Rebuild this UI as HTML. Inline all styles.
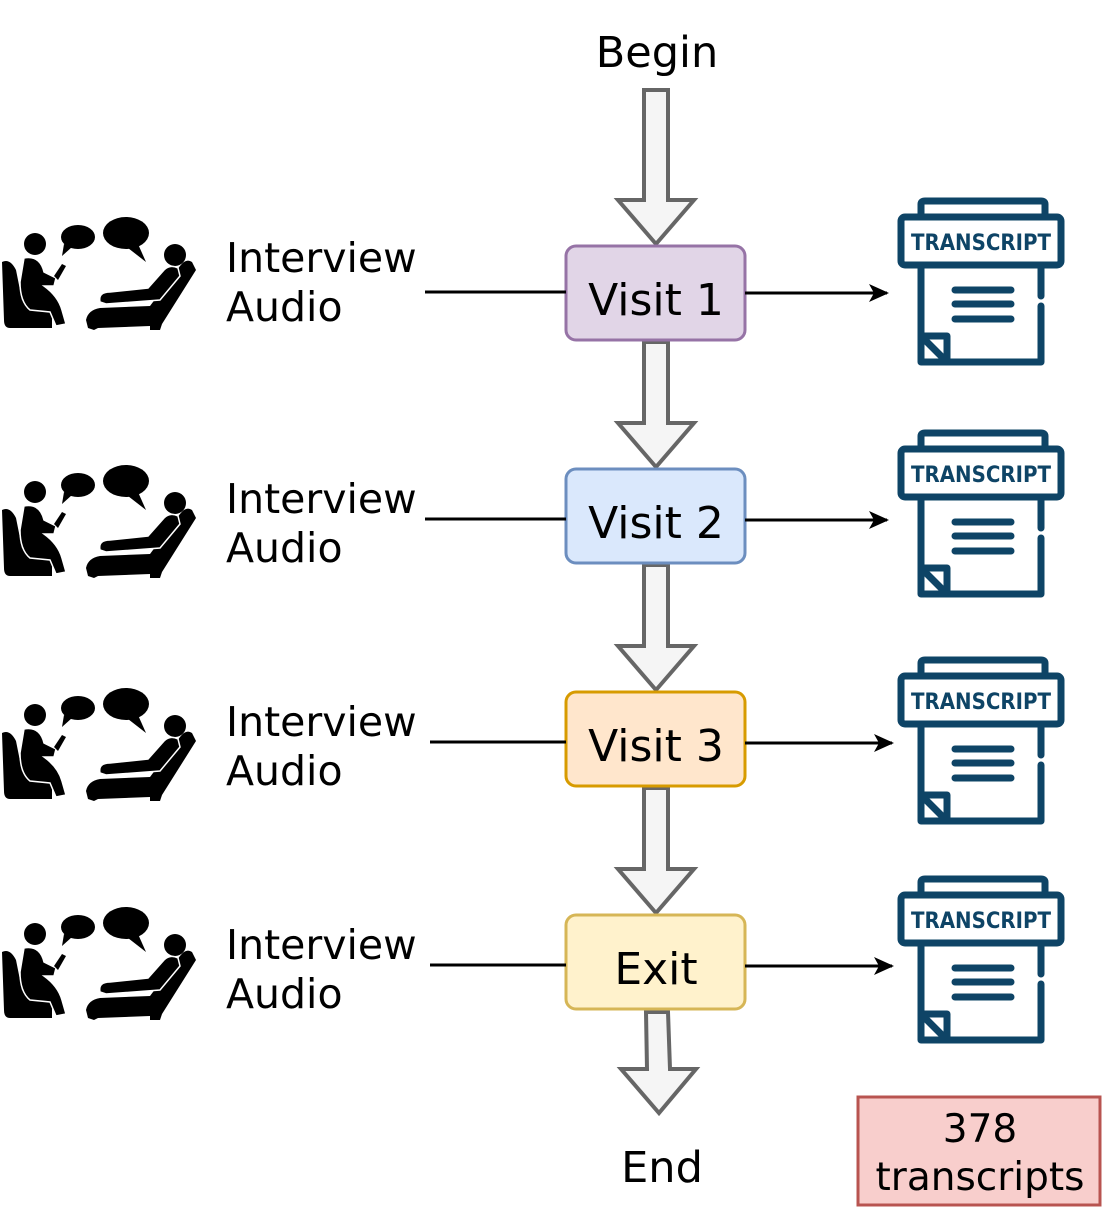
<!DOCTYPE html>
<html><head><style>
html,body{margin:0;padding:0;background:#fff;}
svg text{font-family:"DejaVu Sans","Liberation Sans",sans-serif;}
</style></head><body>
<svg width="1105" height="1215" viewBox="0 0 1105 1215" xmlns="http://www.w3.org/2000/svg">
<defs>
<g id="ppl">
  <!-- therapist chair -->
  <path d="M2,62 Q10,58 16,70 L22,100 L40,106 Q52,108 52,118 L52,128 L10,128 Q4,128 4,120 Z" fill="#000"/>
  <circle cx="35" cy="44" r="11" fill="#000"/>
  <path d="M24,58 Q40,55 44,72 L56,78 L54,86 L44,86 Q58,96 62,110 L66,124 L56,126 L50,112 L30,110 Q20,102 20,82 Z" fill="#000" stroke="#fff" stroke-width="1.5"/>
  <path d="M54,76 L62,64 L66,66 L58,80 Z" fill="#000"/>
  <!-- bubbles -->
  <ellipse cx="78" cy="37" rx="17" ry="12" fill="#000"/>
  <path d="M64,44 L62,56 L72,47 Z" fill="#000"/>
  <ellipse cx="126" cy="33" rx="23" ry="16" fill="#000"/>
  <path d="M138,44 L146,62 L128,48 Z" fill="#000"/>
  <!-- patient -->
  <circle cx="175" cy="55" r="11" fill="#000"/>
  <path d="M86,120 Q88,110 100,108 L150,106 L180,66 Q186,58 192,62 L196,70 L162,124 L160,130 L150,130 L150,126 L98,128 L94,130 L88,128 Z" fill="#000"/>
  <path d="M100,102 Q98,92 110,92 L148,88 L164,70 Q170,64 178,68 L180,76 L160,100 L106,104 Z" fill="#000" stroke="#fff" stroke-width="1.5"/>
</g>
<g id="tr" fill="none" stroke="#0e4466" stroke-width="7" stroke-linecap="round" stroke-linejoin="round">
  <path d="M24,18 V6 Q24,3 28,3 H144 Q148,3 148,6 V18"/>
  <rect x="4" y="19" width="160" height="48" rx="4"/>
  <path d="M24,67 V164 H144 V108 M144,98 V67"/>
  <path d="M24,138 H50 V164"/>
  <path d="M26,140 L48,162" />
  <path d="M58,92 H114 M58,106 H114 M58,121 H114"/>
  <text x="84" y="52" fill="#0e4466" stroke="none" font-size="22" font-weight="bold" text-anchor="middle" textLength="140" lengthAdjust="spacingAndGlyphs" style="font-family:'DejaVu Sans Condensed','DejaVu Sans',sans-serif">TRANSCRIPT</text>
</g>
<marker id="ah" markerWidth="22" markerHeight="22" refX="18" refY="11" orient="auto" markerUnits="userSpaceOnUse">
  <path d="M0,2 L20,11 L0,20 L5,11 Z" fill="#000"/>
</marker>
</defs>

<text x="657" y="67" font-size="43" text-anchor="middle">Begin</text>

<path d="M644,90 H668 V200 H694 L656,244 L618,200 H644 Z" fill="#f5f5f5" stroke="#666" stroke-width="4"/>
<path d="M644,342 H668 V423 H694 L656,467 L618,423 H644 Z" fill="#f5f5f5" stroke="#666" stroke-width="4"/>
<path d="M644,565 H668 V646 H694 L656,690 L618,646 H644 Z" fill="#f5f5f5" stroke="#666" stroke-width="4"/>
<path d="M644,788 H668 V869 H694 L656,913 L618,869 H644 Z" fill="#f5f5f5" stroke="#666" stroke-width="4"/>
<path d="M646,1012 H668 L670,1069 H696 L659,1113 L621,1069 H647 Z" fill="#f5f5f5" stroke="#666" stroke-width="4"/>

<rect x="566" y="246" width="179" height="94" rx="10" fill="#e1d5e7" stroke="#9673a6" stroke-width="3"/>
<text x="656" y="315" font-size="44" text-anchor="middle">Visit 1</text>
<rect x="566" y="469" width="179" height="94" rx="10" fill="#dae8fc" stroke="#6c8ebf" stroke-width="3"/>
<text x="656" y="538" font-size="44" text-anchor="middle">Visit 2</text>
<rect x="566" y="692" width="179" height="94" rx="10" fill="#ffe6cc" stroke="#d79b00" stroke-width="3"/>
<text x="656" y="761" font-size="44" text-anchor="middle">Visit 3</text>
<rect x="566" y="915" width="179" height="94" rx="10" fill="#fff2cc" stroke="#d6b656" stroke-width="3"/>
<text x="656" y="984" font-size="44" text-anchor="middle">Exit</text>

<text x="662" y="1182" font-size="43" text-anchor="middle">End</text>

<g stroke="#000" stroke-width="3">
<line x1="425" y1="292" x2="566" y2="292"/>
<line x1="745" y1="293" x2="887" y2="293" marker-end="url(#ah)"/>
<line x1="425" y1="519" x2="566" y2="519"/>
<line x1="745" y1="520" x2="887" y2="520" marker-end="url(#ah)"/>
<line x1="430" y1="742" x2="566" y2="742"/>
<line x1="745" y1="743" x2="892" y2="743" marker-end="url(#ah)"/>
<line x1="430" y1="965" x2="566" y2="965"/>
<line x1="745" y1="966" x2="892" y2="966" marker-end="url(#ah)"/>
</g>

<g font-size="41">
<text x="226" y="272">Interview</text><text x="226" y="321">Audio</text>
<text x="226" y="513">Interview</text><text x="226" y="562">Audio</text>
<text x="226" y="736">Interview</text><text x="226" y="785">Audio</text>
<text x="226" y="959">Interview</text><text x="226" y="1008">Audio</text>
</g>

<use href="#ppl" x="0" y="200"/>
<use href="#ppl" x="0" y="448"/>
<use href="#ppl" x="0" y="671"/>
<use href="#ppl" x="0" y="890"/>

<use href="#tr" x="897" y="198"/>
<use href="#tr" x="897" y="430"/>
<use href="#tr" x="897" y="657"/>
<use href="#tr" x="897" y="876"/>

<rect x="858" y="1097" width="242" height="108" fill="#f8cecc" stroke="#b85450" stroke-width="3"/>
<text x="980" y="1142" font-size="39" text-anchor="middle">378</text>
<text x="980" y="1190" font-size="39" text-anchor="middle">transcripts</text>
</svg>
</body></html>
